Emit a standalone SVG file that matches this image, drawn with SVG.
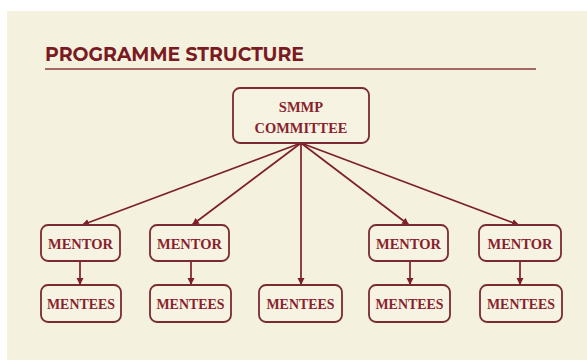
<svg xmlns="http://www.w3.org/2000/svg" width="587" height="360" viewBox="0 0 587 360">
<defs>
<marker id="ah" markerWidth="8" markerHeight="8" refX="7" refY="4" orient="auto" markerUnits="userSpaceOnUse">
<path d="M0,0.5 L7,4 L0,7.5 Z" fill="#7d1f2b"/>
</marker>
</defs>
<style>
.box{fill:#f6f3e2;stroke:#7a2a33;stroke-width:1.8}
.lbl{font-family:"Liberation Serif","DejaVu Serif",serif;font-weight:bold;font-size:14.5px;fill:#8a1f2e;text-anchor:middle}
.con{stroke:#7d1f2b;stroke-width:1.7;fill:none;marker-end:url(#ah)}
</style>
<rect x="0" y="0" width="587" height="360" fill="#ffffff"/>
<rect x="7" y="11" width="580" height="349" fill="#f4f2de"/>
<text x="45" y="61" font-family="Montserrat,'Liberation Sans',Arial,sans-serif" font-weight="bold" font-size="19" fill="#7a1a22" textLength="259" lengthAdjust="spacingAndGlyphs">PROGRAMME STRUCTURE</text>
<line x1="45" y1="69" x2="536" y2="69" stroke="#8a3a3a" stroke-width="1.6"/>
<g id="connectors">
<line class="con" x1="301" y1="143" x2="82" y2="225"/>
<line class="con" x1="301" y1="143" x2="192" y2="225"/>
<line class="con" x1="301" y1="143" x2="301" y2="285"/>
<line class="con" x1="301" y1="143" x2="409" y2="225"/>
<line class="con" x1="301" y1="143" x2="519" y2="225"/>
<line class="con" x1="80" y1="261" x2="80" y2="285"/>
<line class="con" x1="191" y1="261" x2="191" y2="285"/>
<line class="con" x1="410" y1="261" x2="410" y2="285"/>
<line class="con" x1="520" y1="261" x2="520" y2="285"/>
</g>
<g id="committee">
<rect class="box" x="233" y="88" width="136" height="55" rx="7"/>
<text class="lbl" x="301" y="112">SMMP</text>
<text class="lbl" x="301" y="133" textLength="93" lengthAdjust="spacingAndGlyphs">COMMITTEE</text>
</g>
<g id="mentor1">
<rect class="box" x="41" y="225" width="79" height="36" rx="7"/>
<text class="lbl" x="80.5" y="248.5" textLength="65" lengthAdjust="spacingAndGlyphs">MENTOR</text>
</g>
<g id="mentor2">
<rect class="box" x="150" y="225" width="79" height="36" rx="7"/>
<text class="lbl" x="189.5" y="248.5" textLength="65" lengthAdjust="spacingAndGlyphs">MENTOR</text>
</g>
<g id="mentor3">
<rect class="box" x="369" y="225" width="79" height="36" rx="7"/>
<text class="lbl" x="408.5" y="248.5" textLength="65" lengthAdjust="spacingAndGlyphs">MENTOR</text>
</g>
<g id="mentor4">
<rect class="box" x="479" y="225" width="82" height="36" rx="7"/>
<text class="lbl" x="520" y="248.5" textLength="65" lengthAdjust="spacingAndGlyphs">MENTOR</text>
</g>
<g id="mentees1">
<rect class="box" x="41" y="285" width="80" height="37" rx="7"/>
<text class="lbl" x="81" y="308.5" textLength="68" lengthAdjust="spacingAndGlyphs">MENTEES</text>
</g>
<g id="mentees2">
<rect class="box" x="150" y="285" width="81" height="37" rx="7"/>
<text class="lbl" x="190.5" y="308.5" textLength="68" lengthAdjust="spacingAndGlyphs">MENTEES</text>
</g>
<g id="mentees3">
<rect class="box" x="259" y="285" width="83" height="37" rx="7"/>
<text class="lbl" x="300.5" y="308.5" textLength="68" lengthAdjust="spacingAndGlyphs">MENTEES</text>
</g>
<g id="mentees4">
<rect class="box" x="369" y="285" width="81" height="37" rx="7"/>
<text class="lbl" x="409.5" y="308.5" textLength="68" lengthAdjust="spacingAndGlyphs">MENTEES</text>
</g>
<g id="mentees5">
<rect class="box" x="480" y="285" width="82" height="37" rx="7"/>
<text class="lbl" x="521" y="308.5" textLength="68" lengthAdjust="spacingAndGlyphs">MENTEES</text>
</g>
</svg>
